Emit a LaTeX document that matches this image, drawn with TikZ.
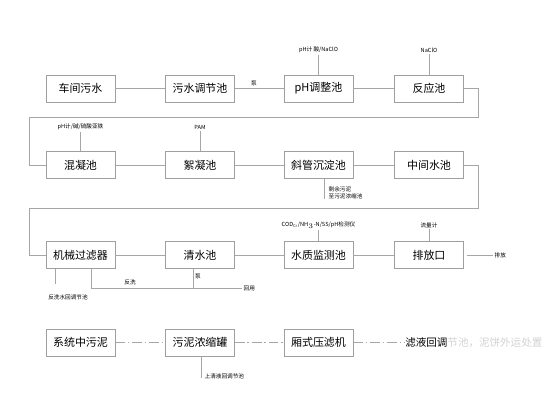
\documentclass[tikz,border=0pt]{standalone}
\usepackage{fontspec}
\setmainfont{Noto Sans CJK SC}
\begin{document}
\begin{tikzpicture}[
    x=0.025cm, y=-0.025cm,
    unit/.style={
        draw=gray!75,
        thin,
        minimum width=1.725cm,
        minimum height=0.675cm,
        inner sep=0pt,
        font=\fontsize{7.8}{9}\selectfont
    },
    tag/.style={
        font=\fontsize{4}{5}\selectfont,
        inner sep=1pt
    },
    pipe/.style={
        draw=gray!70,
        thin
    },
    sludge/.style={
        draw=gray!70,
        thin,
        dash pattern=on 7pt off 2pt on 1pt off 2pt
    }
]

% Column and row positions
\def\ColA{80.5}
\def\ColB{200}
\def\ColC{318.5}
\def\ColD{429}
\def\RowA{88.5}
\def\RowB{165}
\def\RowC{255}
\def\RowD{342.5}

\useasboundingbox (0,0) rectangle (560,420);

% ==================================================
% Row 1
% ==================================================

\node[unit] (chejian) at (\ColA,\RowA) {车间污水};
\node[unit] (tiaojie) at (\ColB,\RowA) {污水调节池};
\node[unit] (tiaozheng) at (\ColC,\RowA) {pH调整池};
\node[unit] (fanying) at (\ColD,\RowA) {反应池};

\node[tag] (tagA) at (\ColC,50) {pH计 酸/NaClO};
\node[tag] (tagB) at (\ColD,50) {NaClO};
\node[tag] (beng1) at (254,83) {泵};

\draw[pipe] (chejian) -- (tiaojie);
\draw[pipe] (tiaojie) -- (tiaozheng);
\draw[pipe] (tiaozheng) -- (fanying);
\draw[pipe] (tagA) -- (tiaozheng);
\draw[pipe] (tagB) -- (fanying);

% ==================================================
% Row 2
% ==================================================

\node[unit] (hunning) at (\ColA,\RowB) {混凝池};
\node[unit] (xuning) at (\ColB,\RowB) {絮凝池};
\node[unit] (xieguan) at (\ColC,\RowB) {斜管沉淀池};
\node[unit] (zhongjian) at (\ColD,\RowB) {中间水池};

\node[tag] (tagC) at (\ColA,127) {pH计/碱/硫酸亚铁};
\node[tag] (tagD) at (\ColB,127) {PAM};
\coordinate (wuni) at (324,199);
\node[tag, anchor=south west, align=left] (tagE) at (327,201)
    {剩余污泥\\至污泥浓缩池};

\draw[pipe] (hunning) -- (xuning);
\draw[pipe] (xuning) -- (xieguan);
\draw[pipe] (xieguan) -- (zhongjian);
\draw[pipe] (tagC) -- (hunning);
\draw[pipe] (tagD) -- (xuning);
\draw[pipe] (xieguan.south -| wuni) -- (wuni);

% return from row 1 to row 2
\coordinate (retAa) at (478,117);
\coordinate (retAb) at (29,117);
\draw[pipe] (fanying.east) -| (retAa) -- (retAb) |- (hunning.west);

% ==================================================
% Row 3
% ==================================================

\node[unit] (guolv) at (\ColA,\RowC) {机械过滤器};
\node[unit] (qingshui) at (\ColB,\RowC) {清水池};
\node[unit] (jiance) at (\ColC,\RowC) {水质监测池};
\node[unit] (paifang) at (\ColD,\RowC) {排放口};

\node[tag] (tagF) at (\ColC,225) {COD$_{\mathrm{Cr}}$/NH$_3$-N/SS/pH检测仪};
\node[tag] (tagG) at (\ColD,225) {流量计};
\node[tag, anchor=west] (paichu) at (493,255) {排放};

\draw[pipe] (guolv) -- (qingshui);
\draw[pipe] (qingshui) -- (jiance);
\draw[pipe] (jiance) -- (paifang);
\draw[pipe] (tagF) -- (jiance);
\draw[pipe] (tagG) -- (paifang);
\draw[pipe] ([xshift=2pt]paifang.east) -- (paichu);

% return from row 2 to row 3
\coordinate (retBa) at (478,208);
\coordinate (retBb) at (29,208);
\draw[pipe] (zhongjian.east) -| (retBa) -- (retBb) |- (guolv.west);

% backwash and reuse
\node[tag] (fanxishui) at (68,297) {反洗水回调节池};
\coordinate (fxA) at (55,284);
\draw[pipe] (guolv.south -| fxA) -- (fxA);

\coordinate (fxB) at (91,288);
\coordinate (fxC) at (193,288);
\node[tag, anchor=west] (huiyong) at (242,288) {回用};
\draw[pipe] (guolv.south -| fxB) -- (fxB) -- (huiyong);
\draw[pipe] (qingshui.south -| fxC) -- (fxC);
\node[tag] at (130,282) {反洗};
\node[tag] at (198,276) {泵};

% ==================================================
% Row 4 (sludge)
% ==================================================

\node[unit] (xitong) at (\ColA,\RowD) {系统中污泥};
\node[unit] (nongsuo) at (\ColB,\RowD) {污泥浓缩罐};
\node[unit] (yalv) at (\ColC,\RowD) {厢式压滤机};
\node[anchor=west, inner sep=0pt, font=\fontsize{7.5}{9}\selectfont] (lvye)
    at (405,\RowD) {滤液回调\textcolor{gray!35}{节池，泥饼外运处置}};

\coordinate (shangqing) at (201,378);
\node[tag, anchor=west] (tagH) at (203,376) {上清液回调节池};

\draw[sludge] (xitong) -- (nongsuo);
\draw[sludge] (nongsuo) -- (yalv);
\draw[sludge] (yalv) -- (lvye);
\draw[pipe] (nongsuo.south -| shangqing) -- (shangqing);

\end{tikzpicture}
\end{document}
